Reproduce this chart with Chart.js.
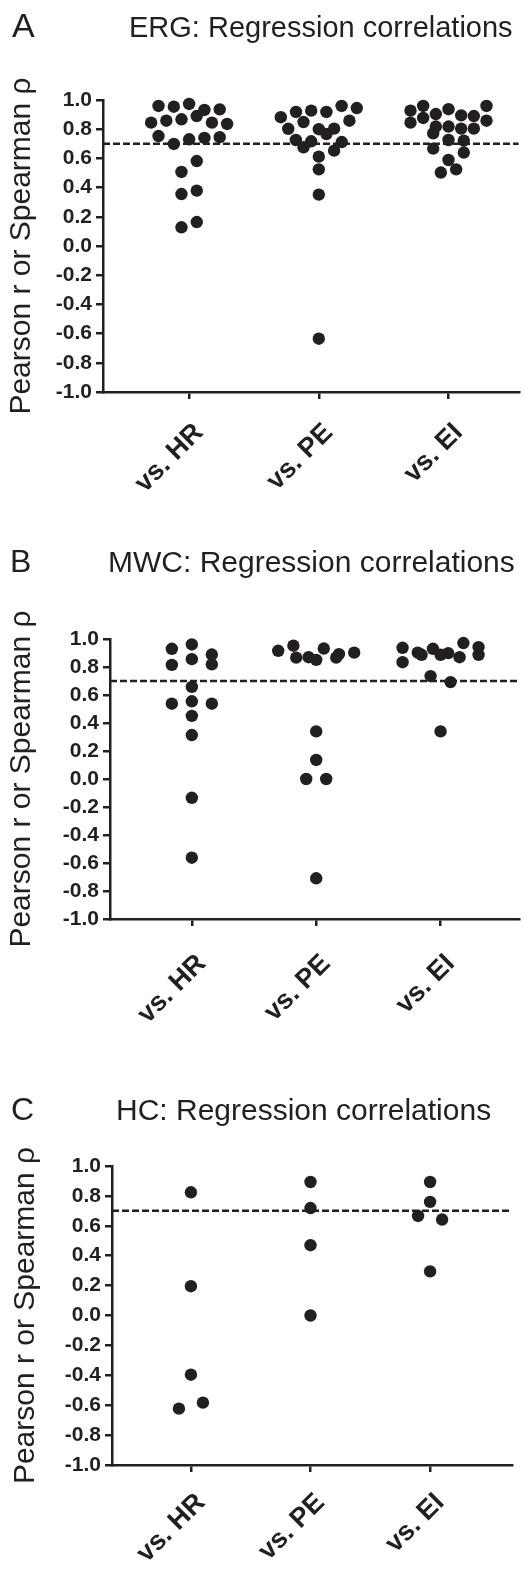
<!DOCTYPE html>
<html lang="en">
<head>
<meta charset="UTF-8">
<title>Regression correlations</title>
<script src="https://cdn.jsdelivr.net/npm/chart.js"></script>
<style>
  html, body { margin: 0; padding: 0; background: #fff; }
  .panel { position: absolute; left: 0; width: 525px; }
</style>
</head>
<body>
<div class="panel" style="top:0;height:510px"><canvas id="chartA"></canvas></div>
<div class="panel" style="top:510px;height:530px"><canvas id="chartB"></canvas></div>
<div class="panel" style="top:1040px;height:534px"><canvas id="chartC"></canvas></div>

<script>
// categories and axis labels
const categories = ['vs. HR', 'vs. PE', 'vs. EI'];
const yTickValues = [1.0, 0.8, 0.6, 0.4, 0.2, 0.0, -0.2, -0.4, -0.6, -0.8, -1.0];
const yTitle = 'Pearson r or Spearman ρ';
const cutoff = 0.7;

// A - ERG (values listed left to right as they sit in the swarm)
const ergHR = [0.845, 0.753, 0.959, 0.858, 0.699, 0.954, 0.868, 0.731, 0.507, 0.356, 0.128,
               0.973, 0.890, 0.740, 0.582, 0.379, 0.164, 0.932, 0.845, 0.745, 0.936, 0.836];
const ergPE = [0.882, 0.726, 0.918, 0.803, 0.717, 0.927, 0.849, 0.767, 0.676, 0.525, 0.352,
               -0.635, 0.918, 0.800, 0.712, 0.612, 0.959, 0.804, 0.653, 0.945, 0.858];
const ergEI = [0.927, 0.845, 0.959, 0.877, 0.772, 0.904, 0.818, 0.667, 0.503, 0.937, 0.818,
               0.726, 0.589, 0.895, 0.804, 0.722, 0.640, 0.525, 0.890, 0.804, 0.959, 0.858];

// B - MWC
const mwcHR = [0.930, 0.815, 0.538, 0.961, 0.856, 0.658, 0.555, 0.451, 0.314, -0.134, -0.562,
               0.889, 0.538, 0.819];
const mwcPE = [0.916, 0.952, 0.867, 0.870, 0.000, 0.932, 0.851, 0.340, 0.136, -0.709, 0.000,
               0.892, 0.903, 0.867];
const mwcEI = [0.937, 0.903, 0.930, 0.834, 0.899, 0.735, 0.971, 0.887, 0.340, 0.692, 0.887,
               0.870, 0.887, 0.942];

// C - HC
const hcHR = [-0.623, 0.824, 0.196, -0.396, -0.583];
const hcPE = [0.893, 0.719, 0.470, 0.000];
const hcEI = [0.666, 0.893, 0.760, 0.295, 0.642];

const FONT = '"Liberation Sans", Arial, Helvetica, sans-serif';
const INK = '#231f20';
const DOT_R = 6.2;
const ROW_PX = 11.5; // points closer than this vertically share a row

// panel letter + heading drawn above the plot
const panelTitle = {
  id: 'panelTitle',
  afterDraw(chart, args, o) {
    const ctx = chart.ctx;
    ctx.save();
    ctx.fillStyle = INK;
    ctx.textAlign = 'left';
    ctx.textBaseline = 'alphabetic';
    ctx.font = o.letterSize + 'px ' + FONT;
    ctx.fillText(o.letter, o.letterX, o.baseline);
    ctx.font = o.titleSize + 'px ' + FONT;
    ctx.fillText(o.text, o.titleX, o.baseline);
    ctx.restore();
  }
};

// spread points of a column sideways in rows, like a dot plot
function spread(chart, groups, lay) {
  const xs = chart.scales.x, ys = chart.scales.y;
  const pxPerX = xs.getPixelForValue(2) - xs.getPixelForValue(1);
  groups.forEach((vals, c) => {
    const order = vals.map((v, i) => i).sort((a, b) => vals[b] - vals[a]);
    const rows = [];
    order.forEach(i => {
      const py = ys.getPixelForValue(vals[i]);
      const row = rows[rows.length - 1];
      if (row && py - row.top < ROW_PX) row.items.push(i);
      else rows.push({ top: py, items: [i] });
    });
    const xOut = [];
    rows.forEach(row => {
      row.items.sort((a, b) => a - b);
      const n = row.items.length;
      const step = n > 1 ? Math.min(lay.step, lay.maxSpan / (n - 1)) : 0;
      row.items.forEach((idx, k) => {
        xOut[idx] = c + 1 + (k - (n - 1) / 2) * step / pxPerX;
      });
    });
    chart.data.datasets[c].data = vals.map((v, i) => ({ x: xOut[i], y: v }));
  });
  chart.update('none');
}

function makePanel(id, groups, lay) {
  const dotSets = groups.map((vals, c) => ({
    type: 'scatter',
    data: vals.map(v => ({ x: c + 1, y: v })),
    backgroundColor: INK,
    borderWidth: 0,
    pointRadius: DOT_R,
    pointHoverRadius: DOT_R,
    clip: false,
    order: 0
  }));
  const cutoffSet = {
    type: 'line',
    data: [{ x: lay.xMin, y: cutoff }, { x: lay.xMax, y: cutoff }],
    borderColor: INK,
    borderWidth: 2.5,
    borderDash: [7, 3],
    pointRadius: 0,
    order: 1
  };
  const axisGrid = { drawOnChartArea: false, color: INK, lineWidth: 2.5, tickLength: 7 };
  const chart = new Chart(document.getElementById(id), {
    type: 'scatter',
    data: { datasets: [...dotSets, cutoffSet] },
    options: {
      responsive: true,
      maintainAspectRatio: false,
      animation: false,
      events: [],
      layout: { padding: { top: lay.padTop, right: lay.padRight, left: 0, bottom: 0 } },
      plugins: {
        legend: { display: false },
        tooltip: { enabled: false },
        panelTitle: lay.title
      },
      scales: {
        x: {
          type: 'linear',
          min: lay.xMin,
          max: lay.xMax,
          afterBuildTicks: ax => { ax.ticks = categories.map((_, i) => ({ value: i + 1 })); },
          afterFit: ax => { ax.height = lay.xHeight; },
          border: { color: INK, width: 2.5 },
          grid: axisGrid,
          ticks: {
            autoSkip: false,
            minRotation: 45,
            maxRotation: 45,
            padding: lay.xLabelPad,
            labelOffset: 10,
            color: INK,
            font: { family: FONT, size: 27, weight: 'bold' },
            callback: v => categories[Math.round(v) - 1]
          }
        },
        y: {
          min: -1,
          max: 1,
          afterBuildTicks: ax => { ax.ticks = yTickValues.map(v => ({ value: v })); },
          afterFit: ax => { ax.width = lay.yWidth; },
          border: { color: INK, width: 2.5 },
          grid: axisGrid,
          ticks: {
            autoSkip: false,
            padding: 4,
            color: INK,
            font: { family: FONT, size: 21, weight: 'bold' },
            callback: v => v.toFixed(1)
          },
          title: {
            display: true,
            text: yTitle,
            color: INK,
            font: { family: FONT, size: 30 },
            padding: { top: lay.yTitlePad, bottom: 0 }
          }
        }
      }
    },
    plugins: [panelTitle]
  });
  spread(chart, groups, lay);
  return chart;
}

makePanel('chartA', [ergHR, ergPE, ergEI], {
  xMin: 0.336, xMax: 3.542, padTop: 100, padRight: 2, yWidth: 103, xHeight: 118,
  step: 15.3, maxSpan: 76, yTitlePad: 4, xLabelPad: 18,
  title: { letter: 'A', text: 'ERG: Regression correlations', letterX: 12, titleX: 129,
           baseline: 37, letterSize: 34, titleSize: 29 }
});

makePanel('chartB', [mwcHR, mwcPE, mwcEI], {
  xMin: 0.342, xMax: 3.629, padTop: 129, padRight: 2, yWidth: 110, xHeight: 121,
  step: 20, maxSpan: 76, yTitlePad: 4, xLabelPad: 22,
  title: { letter: 'B', text: 'MWC: Regression correlations', letterX: 10, titleX: 108,
           baseline: 62, letterSize: 32, titleSize: 30 }
});

makePanel('chartC', [hcHR, hcPE, hcEI], {
  xMin: 0.340, xMax: 3.685, padTop: 126, padRight: 13, yWidth: 112, xHeight: 109,
  step: 24, maxSpan: 76, yTitlePad: 8, xLabelPad: 15,
  title: { letter: 'C', text: 'HC: Regression correlations', letterX: 11, titleX: 116,
           baseline: 80, letterSize: 32, titleSize: 30 }
});
</script>
</body>
</html>
